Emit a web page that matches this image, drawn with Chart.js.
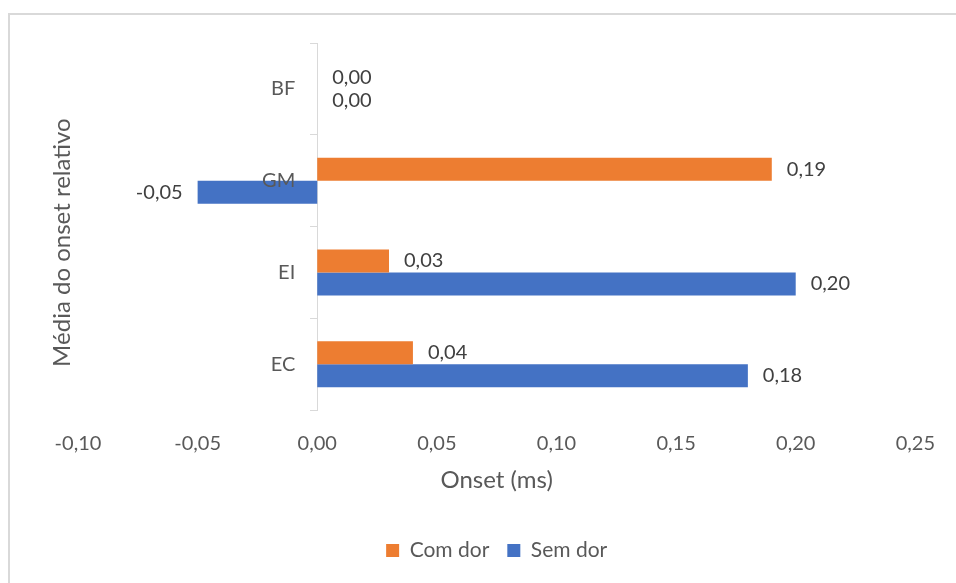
<!DOCTYPE html>
<html>
<head>
<meta charset="utf-8">
<script src="https://cdn.jsdelivr.net/npm/chart.js@4.4.1/dist/chart.umd.min.js"></script>
<style>
  html, body { margin: 0; padding: 0; background: #fff; overflow: hidden; }
  #frame { position: absolute; left: 8px; top: 13px; width: 1000px; height: 640px; border: 2px solid #d9d9d9; box-sizing: border-box; }
  #wrap { position: absolute; left: 0; top: 0; width: 956px; height: 583px; }
</style>
</head>
<body>
<div id="frame"></div>
<div id="wrap"><canvas id="chart"></canvas></div>
<script>
// data
const categories = ['BF', 'GM', 'EI', 'EC'];
const comDor = [0.00, 0.19, 0.03, 0.04];
const semDor = [0.00, -0.05, 0.20, 0.18];
const xMin = -0.10;
const xMax = 0.25;
const xStep = 0.05;
const yTitle = 'Média do onset relativo';

const FONT = 'Lato, "Liberation Sans", sans-serif';
const TEXT = '#595959';
const SMALL = 20;
const BIG = 24;

// Excel-style numbers: comma decimal, two places
function fmt(v) {
  if (Math.abs(v) < 1e-9) v = 0;
  return v.toFixed(2).replace('.', ',');
}

// value labels, category names beside the zero axis, and the y title
const barLabels = {
  id: 'barLabels',
  afterDatasetsDraw(chart) {
    const ctx = chart.ctx;
    const xs = chart.scales.x;
    const ys = chart.scales.y;
    const area = chart.chartArea;
    ctx.save();
    ctx.textBaseline = 'middle';

    // rotated y title, sits a little below the plot centre like Excel does
    ctx.save();
    ctx.font = BIG + 'px ' + FONT;
    ctx.fillStyle = TEXT;
    ctx.textAlign = 'center';
    ctx.translate(62, (area.top + area.bottom) / 2 + 16);
    ctx.rotate(-Math.PI / 2);
    ctx.fillText(yTitle, 0, 0);
    ctx.restore();

    ctx.font = SMALL + 'px ' + FONT;
    ctx.fillStyle = TEXT;
    ctx.textAlign = 'right';
    const x0 = xs.getPixelForValue(0);
    categories.forEach((c, i) => {
      ctx.fillText(c, x0 - 22, ys.getPixelForValue(i));
    });

    ctx.fillStyle = '#404040';
    chart.data.datasets.forEach((ds, di) => {
      chart.getDatasetMeta(di).data.forEach((bar, i) => {
        const v = ds.data[i];
        if (v < 0) {
          ctx.textAlign = 'right';
          ctx.fillText(fmt(v), bar.x - 15, bar.y);
        } else {
          ctx.textAlign = 'left';
          ctx.fillText(fmt(v), bar.x + 15, bar.y);
        }
      });
    });
    ctx.restore();
  }
};

const ctx = document.getElementById('chart').getContext('2d');
const chart = new Chart(ctx, {
  type: 'bar',
  data: {
    labels: categories,
    datasets: [
      { label: 'Com dor', data: comDor, backgroundColor: '#ed7d31', borderWidth: 0 },
      { label: 'Sem dor', data: semDor, backgroundColor: '#4472c4', borderWidth: 0 }
    ]
  },
  options: {
    indexAxis: 'y',
    responsive: true,
    maintainAspectRatio: false,
    animation: false,
    categoryPercentage: 0.5,
    barPercentage: 1,
    layout: { padding: { top: 43, right: 38, bottom: 12, left: 12 } },
    scales: {
      x: {
        type: 'linear',
        min: xMin,
        max: xMax,
        grid: { display: false, drawTicks: false },
        border: { display: false },
        ticks: {
          stepSize: xStep,
          padding: 21,
          color: TEXT,
          font: { family: FONT, size: SMALL },
          callback: (v) => fmt(v)
        },
        title: {
          display: true,
          text: 'Onset (ms)',
          color: TEXT,
          font: { family: FONT, size: BIG },
          padding: { top: -10, bottom: 27 }
        }
      },
      y: {
        type: 'category',
        position: { x: 0 },
        offset: true,
        grid: { display: true, drawOnChartArea: false, offset: true, tickLength: 7, color: '#d9d9d9' },
        border: { display: true, color: '#d9d9d9' },
        ticks: { display: false }
      },
      // spacer on the left that holds room for the y title
      y2: {
        type: 'category',
        position: 'left',
        grid: { display: false, drawTicks: false },
        border: { display: false },
        ticks: { display: false },
        afterFit: (s) => { s.width = 66; }
      }
    },
    plugins: {
      legend: {
        position: 'bottom',
        fullSize: false,
        labels: {
          color: TEXT,
          font: { family: FONT, size: 21 },
          boxWidth: 13,
          boxHeight: 13,
          padding: 18
        }
      },
      tooltip: { enabled: false }
    }
  },
  plugins: [barLabels]
});
</script>
</body>
</html>
